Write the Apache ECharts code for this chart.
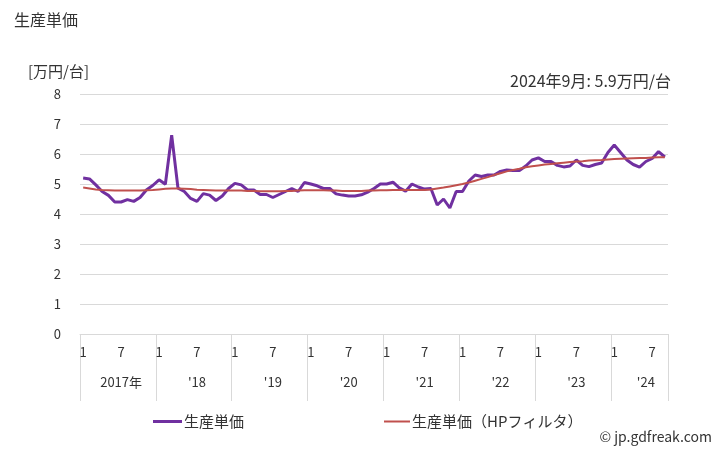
<!DOCTYPE html>
<html><head><meta charset="utf-8">
<script src="https://cdn.jsdelivr.net/npm/echarts@6/dist/echarts.min.js"></script>
<style>html,body{margin:0;padding:0;background:#fff}#c{width:728px;height:450px}</style>
</head><body><div id="c"></div>
<script>
const FONT = '"Noto Sans CJK JP","Noto Sans",sans-serif';
// months Jan 2017 .. Sep 2024
const years = [2017, 2018, 2019, 2020, 2021, 2022, 2023, 2024];
const yearLabels = ['2017年', "'18", "'19", "'20", "'21", "'22", "'23", "'24"];
const yearLabelIndex = [6, 18, 30, 42, 54, 66, 78, 89];
const months = [];
years.forEach(y => { const n = y === 2024 ? 9 : 12; for (let m = 1; m <= n; m++) months.push(String(m)); });

const unitPrice = [
  5.20, 5.17, 4.97, 4.75, 4.62, 4.40, 4.40, 4.48, 4.42, 4.55, 4.80, 4.95,
  5.14, 4.99, 6.63, 4.86, 4.75, 4.52, 4.42, 4.68, 4.63, 4.45, 4.60, 4.85,
  5.02, 4.97, 4.80, 4.80, 4.65, 4.65, 4.55, 4.65, 4.75, 4.85, 4.75, 5.05,
  5.00, 4.94, 4.85, 4.85, 4.67, 4.63, 4.60, 4.60, 4.64, 4.73, 4.85, 5.00,
  5.00, 5.06, 4.87, 4.76, 5.00, 4.90, 4.83, 4.85, 4.30, 4.50, 4.20, 4.75,
  4.75, 5.10, 5.30, 5.25, 5.30, 5.30, 5.42, 5.47, 5.45, 5.45, 5.60, 5.80,
  5.87, 5.75, 5.75, 5.62, 5.57, 5.60, 5.80, 5.62, 5.58, 5.65, 5.70, 6.05,
  6.30, 6.05, 5.80, 5.65, 5.56, 5.75, 5.85, 6.08, 5.90
];
const hpFilter = [
  4.88, 4.85, 4.82, 4.80, 4.79, 4.78, 4.78, 4.78, 4.78, 4.78, 4.79, 4.80,
  4.82, 4.84, 4.85, 4.85, 4.84, 4.83, 4.81, 4.80, 4.79, 4.78, 4.78, 4.78,
  4.78, 4.78, 4.77, 4.77, 4.76, 4.76, 4.76, 4.76, 4.77, 4.77, 4.78, 4.79,
  4.79, 4.79, 4.79, 4.78, 4.78, 4.77, 4.77, 4.77, 4.77, 4.78, 4.78, 4.79,
  4.79, 4.80, 4.80, 4.80, 4.80, 4.80, 4.80, 4.82, 4.85, 4.88, 4.92, 4.96,
  5.00, 5.05, 5.11, 5.17, 5.23, 5.30, 5.36, 5.42, 5.47, 5.51, 5.56, 5.59,
  5.62, 5.65, 5.67, 5.69, 5.71, 5.73, 5.75, 5.76, 5.78, 5.79, 5.80, 5.82,
  5.83, 5.84, 5.85, 5.86, 5.87, 5.87, 5.88, 5.89, 5.89
];
const yTicks = [0, 1, 2, 3, 4, 5, 6, 7, 8];
const seriesNames = ['生産単価', '生産単価（HPフィルタ）'];
const lastLabel = '2024年9月: ' + unitPrice[unitPrice.length - 1].toFixed(1) + '万円/台';

const chart = echarts.init(document.getElementById('c'), null, {renderer: 'canvas'});
const txt = {color: '#333', fontFamily: FONT};
chart.setOption({
  animation: false,
  textStyle: {fontFamily: FONT},
  title: [
    {text: '生産単価', left: 9, top: 7, textStyle: Object.assign({fontSize: 16, fontWeight: 'normal'}, txt)},
    {text: '[万円/台]', left: 23, top: 59, textStyle: Object.assign({fontSize: 15, fontWeight: 'normal'}, txt)},
    {text: lastLabel, right: 52, top: 68, textStyle: Object.assign({fontSize: 16, fontWeight: 'normal'}, txt)},
    {text: '© jp.gdfreak.com', right: 11, top: 425, textStyle: Object.assign({fontSize: 14, fontWeight: 'normal'}, txt)}
  ],
  grid: {left: 80, right: 60, top: 94, bottom: 116, containLabel: false},
  legend: [
    {data: [seriesNames[0]], left: 148, top: 409, icon: 'rect', itemWidth: 29, itemHeight: 3, itemGap: 0,
     textStyle: Object.assign({fontSize: 15, padding: [0, 0, 0, -3]}, txt)},
    {data: [seriesNames[1]], left: 379, top: 409, icon: 'rect', itemWidth: 26, itemHeight: 2, itemGap: 0,
     textStyle: Object.assign({fontSize: 15, padding: [0, 0, 0, -3]}, txt)}
  ],
  xAxis: [
    {type: 'category', data: months, boundaryGap: true,
     axisLine: {show: true, lineStyle: {color: '#d9d9d9', width: 1}},
     axisTick: {show: false},
     axisLabel: {interval: (i) => i % 6 === 0, margin: 12, fontSize: 13, color: '#333', fontFamily: FONT}},
    {type: 'category', data: months, boundaryGap: true, position: 'bottom',
     axisLine: {show: false},
     axisTick: {show: true, interval: (i) => i % 12 === 0, length: 67, lineStyle: {color: '#d9d9d9', width: 1}},
     axisLabel: {interval: (i) => yearLabelIndex.indexOf(i) >= 0, margin: 42, fontSize: 13, color: '#333', fontFamily: FONT,
       formatter: (v, i) => { const k = yearLabelIndex.indexOf(i); return k >= 0 ? yearLabels[k] : ''; }}}
  ],
  yAxis: {type: 'value', min: yTicks[0], max: yTicks[yTicks.length - 1], interval: 1,
    axisLine: {show: false}, axisTick: {show: false},
    splitLine: {lineStyle: {color: '#d9d9d9', width: 1}},
    axisLabel: {margin: 19, fontSize: 13, color: '#333', fontFamily: FONT}},
  series: [
    {name: seriesNames[0], type: 'line', data: unitPrice, xAxisIndex: 0, showSymbol: false, symbol: 'none',
     lineStyle: {color: '#7030A0', width: 3}, itemStyle: {color: '#7030A0'}},
    {name: seriesNames[1], type: 'line', data: hpFilter, xAxisIndex: 0, showSymbol: false, symbol: 'none',
     lineStyle: {color: '#C0504D', width: 2}, itemStyle: {color: '#C0504D'}}
  ]
});
</script></body></html>
